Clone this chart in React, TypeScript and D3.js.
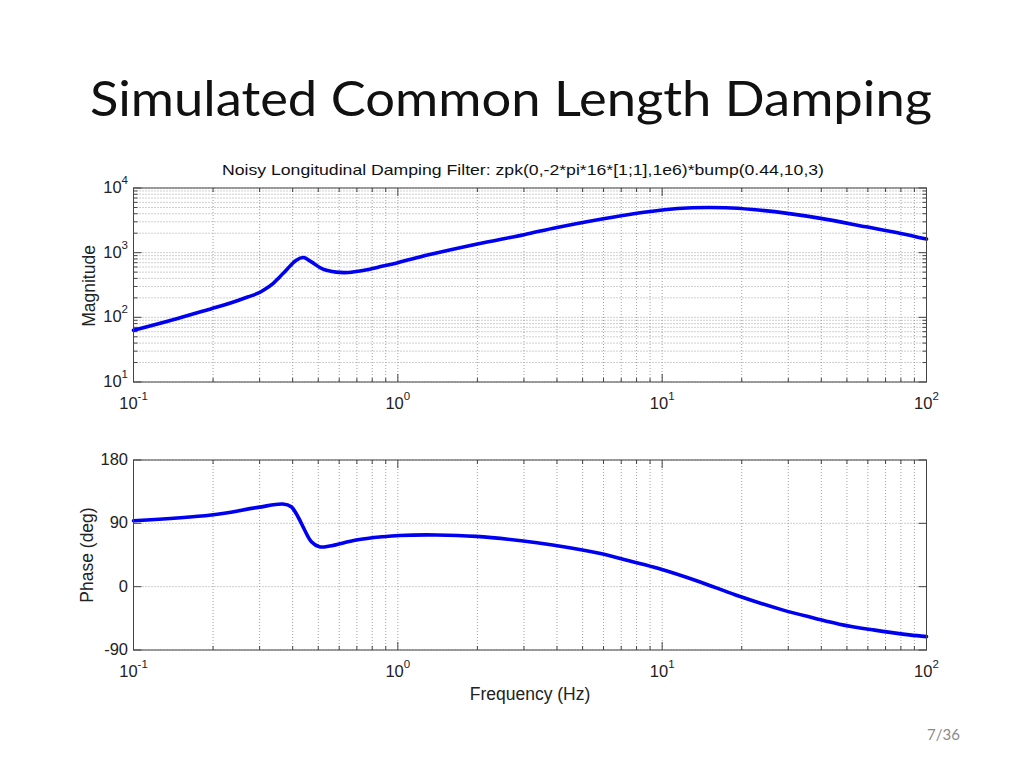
import React from "react";
import * as d3 from "d3";

// ---- data ----
const magFreq = [0.1, 0.14, 0.197, 0.22, 0.25, 0.27, 0.296, 0.31, 0.337, 0.355, 0.378, 0.413, 0.44, 0.471, 0.521, 0.585, 0.65, 0.738, 0.878, 1.0, 1.32, 1.98, 3.0, 4.0, 6.0, 10, 13, 17.4, 22, 29.8, 39.8, 59, 80, 100];
const magValue = [63, 91, 136, 155, 184, 206, 236, 262, 333, 410, 536, 766, 840, 720, 555, 500, 494, 530, 620, 700, 935, 1350, 1900, 2450, 3350, 4560, 4950, 4950, 4650, 4055, 3390, 2510, 1980, 1620];

const phaseFreq = [0.1, 0.197, 0.296, 0.367, 0.395, 0.419, 0.444, 0.471, 0.505, 0.552, 0.696, 0.878, 1.015, 1.4, 1.98, 2.93, 3.85, 5.78, 7.73, 9.63, 13.84, 18.97, 28.5, 37.7, 46.8, 62.8, 86, 100];
const phaseValue = [93.7, 101.8, 112.7, 117.4, 113.6, 99.4, 80.5, 63.9, 56.7, 57.7, 66.3, 71, 72.8, 73.5, 71.5, 65.3, 59.2, 47.4, 35.5, 26.1, 7, -11.8, -33, -44.8, -53.3, -61.4, -68.5, -71];

const decades = [0.1, 1, 10, 100];
const freqExponents = ["-1", "0", "1", "2"];
const magDecades = [10, 100, 1000, 10000];
const magExponents = ["1", "2", "3", "4"];
const phaseTicks = [-90, 0, 90, 180];

const titleText = "Simulated Common Length Damping";
const plotTitle = "Noisy Longitudinal Damping Filter: zpk(0,-2*pi*16*[1;1],1e6)*bump(0.44,10,3)";
const magLabel = "Magnitude";
const phaseLabel = "Phase (deg)";
const freqLabel = "Frequency (Hz)";
const pageLabel = "7/36";

// ---- layout ----
const X0 = 133.5, X1 = 926.5;
const TOP_Y0 = 188, TOP_Y1 = 382;
const BOT_Y0 = 460, BOT_Y1 = 650;
const FONT = "'Liberation Sans', Arial, Helvetica, sans-serif";
const GRID = "#a0a0a0";
const AXIS = "#444";
const LINE = "#0000f0";
const TICK_FS = 16.5;
const EXP_FS = 11.5;
const LABEL_FS = 17.5;

const x = d3.scaleLog().domain([0.1, 100]).range([X0, X1]);
const yMag = d3.scaleLog().domain([10, 10000]).range([TOP_Y1, TOP_Y0]);
const yPh = d3.scaleLinear().domain([-90, 180]).range([BOT_Y1, BOT_Y0]);

const minorOf = (decs: number[]) => {
  const out: number[] = [];
  for (let i = 0; i < decs.length - 1; i++) for (let k = 2; k <= 9; k++) out.push(decs[i] * k);
  return out;
};
const xMinor = minorOf(decades);
const magMinor = minorOf(magDecades);

const magLine = d3
  .line<number>()
  .x((_, i) => x(magFreq[i]))
  .y((v) => yMag(v))
  .curve(d3.curveCatmullRom.alpha(0.5));
const phLine = d3
  .line<number>()
  .x((_, i) => x(phaseFreq[i]))
  .y((v) => yPh(v))
  .curve(d3.curveCatmullRom.alpha(0.5));

function Frame({ y0, y1 }: { y0: number; y1: number }) {
  return <rect x={X0} y={y0} width={X1 - X0} height={y1 - y0} fill="none" stroke={AXIS} strokeWidth={1} />;
}

function XTicks({ y0, y1 }: { y0: number; y1: number }) {
  return (
    <g stroke={AXIS} strokeWidth={1}>
      {decades.map((d, i) => (
        <g key={"M" + i}>
          <line x1={x(d)} x2={x(d)} y1={y1} y2={y1 - 8} />
          <line x1={x(d)} x2={x(d)} y1={y0} y2={y0 + 8} />
        </g>
      ))}
      {xMinor.map((d, i) => (
        <g key={"m" + i}>
          <line x1={x(d)} x2={x(d)} y1={y1} y2={y1 - 4} />
          <line x1={x(d)} x2={x(d)} y1={y0} y2={y0 + 4} />
        </g>
      ))}
    </g>
  );
}

function XLabels({ y }: { y: number }) {
  return (
    <g fontFamily={FONT} fill="#222">
      {decades.map((d, i) => (
        <text key={i} x={x(d)} y={y} textAnchor="middle" fontSize={TICK_FS}>
          10
          <tspan dy={-9} fontSize={EXP_FS}>{freqExponents[i]}</tspan>
        </text>
      ))}
    </g>
  );
}

export default function App() {
  const allX = [...decades, ...xMinor];
  return (
    <svg
      width={1024}
      height={768}
      viewBox="0 0 1024 768"
      style={{ position: "absolute", left: 0, top: 0, background: "#fff" }}
    >
      <rect x={0} y={0} width={1024} height={768} fill="#fff" />
      <text x={90} y={116} fontFamily="Lato, 'Open Sans', sans-serif" fontSize={48} fill="#111" textLength={842} lengthAdjust="spacingAndGlyphs">
        {titleText}
      </text>

      {/* ---------- Magnitude plot ---------- */}
      <text x={523} y={175} textAnchor="middle" fontFamily={FONT} fontSize={14.5} fill="#111" textLength={602} lengthAdjust="spacingAndGlyphs">
        {plotTitle}
      </text>
      <g stroke={GRID} strokeWidth={1} strokeDasharray="1,2">
        {allX.map((d, i) => (
          <line key={"gx" + i} x1={x(d)} x2={x(d)} y1={TOP_Y0} y2={TOP_Y1} />
        ))}
        {[...magDecades, ...magMinor].map((d, i) => (
          <line key={"gy" + i} x1={X0} x2={X1} y1={yMag(d)} y2={yMag(d)} />
        ))}
      </g>
      <XTicks y0={TOP_Y0} y1={TOP_Y1} />
      <g stroke={AXIS} strokeWidth={1}>
        {magDecades.map((d, i) => (
          <g key={"yt" + i}>
            <line x1={X0} x2={X0 + 8} y1={yMag(d)} y2={yMag(d)} />
            <line x1={X1} x2={X1 - 8} y1={yMag(d)} y2={yMag(d)} />
          </g>
        ))}
        {magMinor.map((d, i) => (
          <g key={"ym" + i}>
            <line x1={X0} x2={X0 + 4} y1={yMag(d)} y2={yMag(d)} />
            <line x1={X1} x2={X1 - 4} y1={yMag(d)} y2={yMag(d)} />
          </g>
        ))}
      </g>
      <path d={magLine(magValue) || ""} fill="none" stroke={LINE} strokeWidth={3.6} strokeLinejoin="round" strokeLinecap="round" />
      <Frame y0={TOP_Y0} y1={TOP_Y1} />
      <g fontFamily={FONT} fill="#222">
        {magDecades.map((d, i) => (
          <text key={i} x={128} y={yMag(d) + 5} textAnchor="end" fontSize={TICK_FS}>
            10
            <tspan dy={-9} fontSize={EXP_FS}>{magExponents[i]}</tspan>
          </text>
        ))}
      </g>
      <XLabels y={409} />
      <text transform="translate(95,286) rotate(-90)" textAnchor="middle" fontFamily={FONT} fontSize={LABEL_FS} fill="#222">
        {magLabel}
      </text>

      {/* ---------- Phase plot ---------- */}
      <g stroke={GRID} strokeWidth={1} strokeDasharray="1,2">
        {allX.map((d, i) => (
          <line key={"px" + i} x1={x(d)} x2={x(d)} y1={BOT_Y0} y2={BOT_Y1} />
        ))}
        {phaseTicks.map((d, i) => (
          <line key={"py" + i} x1={X0} x2={X1} y1={yPh(d)} y2={yPh(d)} />
        ))}
      </g>
      <XTicks y0={BOT_Y0} y1={BOT_Y1} />
      <g stroke={AXIS} strokeWidth={1}>
        {phaseTicks.map((d, i) => (
          <g key={"pt" + i}>
            <line x1={X0} x2={X0 + 8} y1={yPh(d)} y2={yPh(d)} />
            <line x1={X1} x2={X1 - 8} y1={yPh(d)} y2={yPh(d)} />
          </g>
        ))}
      </g>
      <path d={phLine(phaseValue) || ""} fill="none" stroke={LINE} strokeWidth={3.6} strokeLinejoin="round" strokeLinecap="round" />
      <Frame y0={BOT_Y0} y1={BOT_Y1} />
      <g fontFamily={FONT} fill="#222">
        {phaseTicks.map((d, i) => (
          <text key={i} x={128} y={yPh(d) + 5} textAnchor="end" fontSize={TICK_FS}>
            {String(d)}
          </text>
        ))}
      </g>
      <XLabels y={677} />
      <text transform="translate(93,555) rotate(-90)" textAnchor="middle" fontFamily={FONT} fontSize={LABEL_FS} fill="#222">
        {phaseLabel}
      </text>
      <text x={530} y={700} textAnchor="middle" fontFamily={FONT} fontSize={LABEL_FS} fill="#222">
        {freqLabel}
      </text>

      <text x={927} y={740} fontFamily="Lato, 'Open Sans', sans-serif" fontSize={15} fill="#8a8a8a">
        {pageLabel}
      </text>
    </svg>
  );
}
